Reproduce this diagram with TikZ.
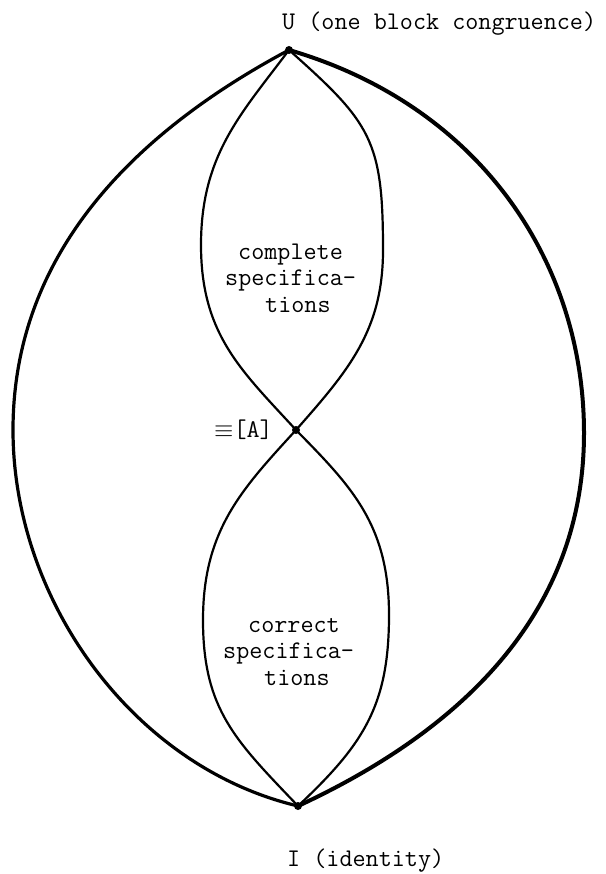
\documentclass[tikz,border=0pt]{standalone}
\begin{document}
\begin{tikzpicture}[x=1pt,y=-1pt,
  outerl/.style={line width=3.2pt},
  outerr/.style={line width=4pt},
  innerc/.style={line width=2.2pt},
  lbl/.style={anchor=base west,inner sep=0pt,font=\fontsize{25.4}{30}\selectfont\ttfamily},
  dotn/.style={circle,fill=black,inner sep=0pt,minimum size=8pt}]
\useasboundingbox (0,0) rectangle (605,874);
\node[dotn] (U) at (289,50) {};
\node[dotn] (A) at (296,430) {};
\node[dotn] (I) at (298,806) {};
\coordinate (OL) at (13,430);
\coordinate (OR) at (584,433);
\coordinate (TL) at (201,245);
\coordinate (TR) at (383,250);
\coordinate (BL) at (203,620);
\coordinate (BR) at (389,615);
% outer lens
\draw[outerl] (U.center) .. controls (139,130) and (13,250) .. (OL) .. controls (13,600) and (133,767) .. (I.center);
\draw[outerr] (U.center) .. controls (481,106) and (584,263) .. (OR) .. controls (584,613) and (462,730) .. (I.center);
% top lens
\draw[innerc] (U.center) .. controls (241,114) and (201,155) .. (TL) .. controls (201,335) and (242,371) .. (A.center);
\draw[innerc] (U.center) .. controls (371,123) and (383,140) .. (TR) .. controls (383,330) and (349,370) .. (A.center);
% bottom lens
\draw[innerc] (A.center) .. controls (242,489) and (203,530) .. (BL) .. controls (203,710) and (236,741) .. (I.center);
\draw[innerc] (A.center) .. controls (352,487) and (389,525) .. (BR) .. controls (389,705) and (364,744) .. (I.center);
% labels
\node[lbl] (ul) at (282,30) {U (one block congruence)};
\node[lbl] (il) at (287,866) {I (identity)};
\node[lbl,anchor=base east] (al) at (273,437) {$\equiv$[A]};
\node[lbl] (c1) at (238,260) {complete};
\node[lbl] (c2) at (225,285) {specifica-};
\node[lbl] (c3) at (265,312) {tions};
\node[lbl] (d1) at (248,632) {correct};
\node[lbl] (d2) at (223,658) {specifica-};
\node[lbl] (d3) at (264,685) {tions};
\end{tikzpicture}
\end{document}
